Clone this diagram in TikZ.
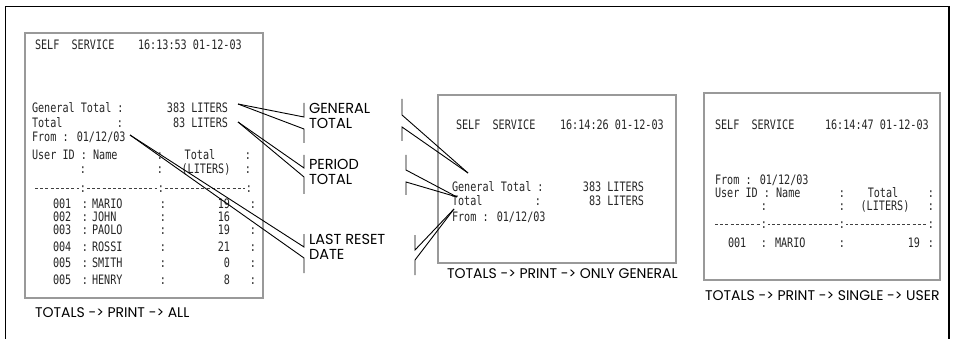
\documentclass[tikz,border=0pt]{standalone}
\usepackage{fontspec}
\newfontfamily\rcfont[FakeStretch=0.78]{DejaVu Sans Mono}
\newfontfamily\lblfont{Poppins}
\begin{document}
\begin{tikzpicture}[x=1pt,y=-1pt,
  frame/.style={draw=black,line width=1.2pt},
  panel/.style={draw=black!40,line width=1.6pt,fill=white},
  rc/.style={font=\rcfont\fontsize{13}{13}\selectfont,text=black!85,inner sep=0pt,outer sep=0pt,text height=9.5pt,text depth=0pt},
  lbl/.style={font=\lblfont\fontsize{14.5}{14.5}\selectfont,inner sep=0pt,outer sep=0pt,text height=10pt,text depth=0pt,anchor=west},
  caption/.style={lbl,font=\lblfont\fontsize{14}{14}\selectfont},
  conn/.style={draw=black,line width=0.9pt},
  dashrule/.style={draw=black!75,line width=0.9pt,dash pattern=on 3pt off 2.2pt}]
\useasboundingbox (0,0) rectangle (955,339);
% outer frame
\coordinate (fbl) at (5.5,339);
\coordinate (ftl) at (5.5,6.5);
\coordinate (ftr) at (949,6.5);
\coordinate (fbr) at (949,339);
\draw[frame] (fbl) -- (ftl) -- (ftr) -- (fbr);
% panels
\node[panel,minimum width=238pt,minimum height=265pt,anchor=north west,inner sep=0pt] (P1) at (24,32) {};
\node[panel,minimum width=238pt,minimum height=168pt,anchor=north west,inner sep=0pt] (P2) at (437,94) {};
\node[panel,minimum width=236pt,minimum height=187pt,anchor=north west,inner sep=0pt] (P3) at (703,92) {};
% ---------- panel 1 ----------
\node[rc,anchor=west] (a1) at (35,45) {SELF~~SERVICE};
\node[rc,anchor=west] (a2) at (138,45) {16:13:53 01-12-03};
\node[rc,anchor=west] (a3) at (32,108) {General Total :};
\node[rc,anchor=east] (a4) at (228,108) {383 LITERS};
\node[rc,anchor=west] (a5) at (32,123) {Total};
\node[rc] (a6) at (120,123) {:};
\node[rc,anchor=east] (a7) at (228,123) {83 LITERS};
\node[rc,anchor=west] (a8) at (32,137) {From : 01/12/03};
\node[rc,anchor=west] (a9) at (32,155) {User ID : Name};
\node[rc] (a10) at (160,155) {:};
\node[rc] (a11) at (200,155) {Total};
\node[rc] (a12) at (248,155) {:};
\node[rc] (a13) at (83,169) {:};
\node[rc] (a14) at (160,169) {:};
\node[rc] (a15) at (206,169) {(LITERS)};
\node[rc] (a16) at (248,169) {:};
\coordinate (d1s) at (35,188);
\coordinate (d1e) at (246,188);
\draw[dashrule] (d1s) -- (d1e);
\node[rc,fill=white,inner xsep=0.5pt] (a17) at (83,188) {:};
\node[rc,fill=white,inner xsep=0.5pt] (a18) at (161,188) {:};
\node[rc,fill=white,inner xsep=0.5pt] (a19) at (249,188) {:};
% rows
\node[rc,anchor=west] (r1a) at (53,204) {001};
\node[rc] (r1b) at (85,204) {:};
\node[rc,anchor=west] (r1c) at (92,204) {MARIO};
\node[rc] (r1d) at (163,204) {:};
\node[rc,anchor=east] (r1e) at (230,204) {19};
\node[rc] (r1f) at (253,204) {:};
\node[rc,anchor=west] (r2a) at (53,217) {002};
\node[rc] (r2b) at (85,217) {:};
\node[rc,anchor=west] (r2c) at (92,217) {JOHN};
\node[rc] (r2d) at (163,217) {:};
\node[rc,anchor=east] (r2e) at (230,217) {16};
\node[rc,anchor=west] (r3a) at (53,230) {003};
\node[rc] (r3b) at (85,230) {:};
\node[rc,anchor=west] (r3c) at (92,230) {PAOLO};
\node[rc] (r3d) at (163,230) {:};
\node[rc,anchor=east] (r3e) at (230,230) {19};
\node[rc] (r3f) at (253,230) {:};
\node[rc,anchor=west] (r4a) at (53,247) {004};
\node[rc] (r4b) at (85,247) {:};
\node[rc,anchor=west] (r4c) at (92,247) {ROSSI};
\node[rc] (r4d) at (163,247) {:};
\node[rc,anchor=east] (r4e) at (230,247) {21};
\node[rc] (r4f) at (253,247) {:};
\node[rc,anchor=west] (r5a) at (53,263) {005};
\node[rc] (r5b) at (85,263) {:};
\node[rc,anchor=west] (r5c) at (92,263) {SMITH};
\node[rc] (r5d) at (163,263) {:};
\node[rc,anchor=east] (r5e) at (230,263) {0};
\node[rc] (r5f) at (253,263) {:};
\node[rc,anchor=west] (r6a) at (53,280) {005};
\node[rc] (r6b) at (85,280) {:};
\node[rc,anchor=west] (r6c) at (92,280) {HENRY};
\node[rc] (r6d) at (163,280) {:};
\node[rc,anchor=east] (r6e) at (230,280) {8};
\node[rc] (r6f) at (253,280) {:};
% ---------- panel 2 ----------
\node[rc,anchor=west] (b1) at (456,125) {SELF~~SERVICE};
\node[rc,anchor=west] (b2) at (560,125) {16:14:26 01-12-03};
\node[rc,anchor=west] (b3) at (452,187) {General Total :};
\node[rc,anchor=east] (b4) at (644,187) {383 LITERS};
\node[rc,anchor=west] (b5) at (452,201) {Total};
\node[rc] (b6) at (538,201) {:};
\node[rc,anchor=east] (b7) at (644,201) {83 LITERS};
\node[rc,anchor=west] (b8) at (452,217) {From : 01/12/03};
% ---------- panel 3 ----------
\node[rc,anchor=west] (c1) at (715,125) {SELF~~SERVICE};
\node[rc,anchor=west] (c2) at (825,125) {16:14:47 01-12-03};
\node[rc,anchor=west] (c3) at (715,180) {From : 01/12/03};
\node[rc,anchor=west] (c4) at (715,193) {User ID : Name};
\node[rc] (c5) at (842,193) {:};
\node[rc] (c6) at (883,193) {Total};
\node[rc] (c7) at (931,193) {:};
\node[rc] (c8) at (764,206) {:};
\node[rc] (c9) at (842,206) {:};
\node[rc] (c10) at (885,206) {(LITERS)};
\node[rc] (c11) at (931,206) {:};
\coordinate (d3s) at (715,224);
\coordinate (d3e) at (929,224);
\draw[dashrule] (d3s) -- (d3e);
\node[rc,fill=white,inner xsep=0.5pt] (c12) at (764,224) {:};
\node[rc,fill=white,inner xsep=0.5pt] (c13) at (842,224) {:};
\node[rc,fill=white,inner xsep=0.5pt] (c14) at (931,224) {:};
\node[rc,anchor=west] (c15) at (728,243) {001};
\node[rc] (c16) at (764,243) {:};
\node[rc,anchor=west] (c17) at (775,243) {MARIO};
\node[rc] (c18) at (842,243) {:};
\node[rc,anchor=east] (c19) at (920,243) {19};
\node[rc] (c20) at (931,243) {:};
% ---------- captions ----------
\node[caption] (cap1) at (35,312) {TOTALS -> PRINT -> ALL};
\node[caption] (cap2) at (447,273) {TOTALS -> PRINT -> ONLY GENERAL};
\node[caption] (cap3) at (705,295) {TOTALS -> PRINT -> SINGLE -> USER};
% ---------- labels ----------
\node[lbl] (g1) at (309,109) {GENERAL};
\node[lbl] (g2) at (309,124) {TOTAL};
\node[lbl] (pe1) at (309,165) {PERIOD};
\node[lbl] (pe2) at (309,180) {TOTAL};
\node[lbl] (l1) at (309,239) {LAST RESET};
\node[lbl] (l2) at (309,254) {DATE};
% ---------- connectors ----------
% general total
\coordinate (gs) at (238,104);
\coordinate (gt) at (468,173);
\coordinate (glA) at (304,103); \coordinate (glB) at (304,117);
\coordinate (glC) at (304,129); \coordinate (glD) at (304,143);
\coordinate (grA) at (402,99);  \coordinate (grB) at (402,115);
\coordinate (grC) at (402,127); \coordinate (grD) at (402,141);
\draw[conn] (gs) -- (glB) -- (glA);
\draw[conn] (gs) -- (glC) -- (glD);
\draw[conn] (grA) -- (grB) -- (gt);
\draw[conn] (grD) -- (grC) -- (gt);
% period total
\coordinate (ps) at (238,122);
\coordinate (pt) at (457,197);
\coordinate (plA) at (304,155); \coordinate (plB) at (304,168);
\coordinate (plC) at (304,177); \coordinate (plD) at (304,194);
\coordinate (prA) at (406,155); \coordinate (prB) at (406,170);
\coordinate (prC) at (406,182); \coordinate (prD) at (406,195);
\draw[conn] (ps) -- (plB) -- (plA);
\draw[conn] (ps) -- (plC) -- (plD);
\draw[conn] (prA) -- (prB) -- (pt);
\draw[conn] (prD) -- (prC) -- (pt);
% last reset date
\coordinate (ls) at (130,135);
\coordinate (lt) at (454,209);
\coordinate (llA) at (304,234); \coordinate (llB) at (304,247);
\coordinate (llC) at (304,258); \coordinate (llD) at (304,273);
\coordinate (lrA) at (415,235); \coordinate (lrB) at (415,250);
\coordinate (lrC) at (415,260); \coordinate (lrD) at (415,275);
\draw[conn] (ls) -- (llB) -- (llA);
\draw[conn] (ls) -- (llC) -- (llD);
\draw[conn] (lrA) -- (lrB) -- (lt);
\draw[conn] (lrD) -- (lrC) -- (lt);
\end{tikzpicture}
\end{document}
